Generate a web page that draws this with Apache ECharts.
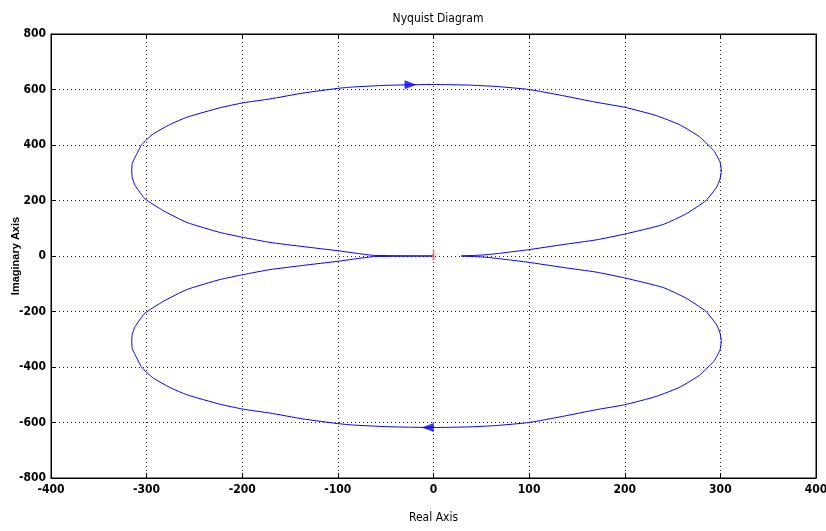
<!DOCTYPE html>
<html><head><meta charset="utf-8">
<script src="https://cdn.jsdelivr.net/npm/echarts@6/dist/echarts.min.js"></script>
<style>html,body{margin:0;padding:0;background:#fff}#c{width:826px;height:531px}</style>
</head><body><div id="c"></div>
<script>
// Upper loop (traversed from origin, out left, across top, back on right)
var upperX = [0, -20, -40, -63.6, -81, -100, -136.6, -171, -199, -223.5, -258, -282.6, -301.7, -312, -315, -315.6, -315, -312, -305, -293, -275.6, -258, -223.5, -199, -171, -136.6, -100, -84.5, -49.7, -24, 0, 36, 65.5, 100, 135, 170, 200, 233, 258, 278, 293, 299.5, 301, 299.5, 296, 285, 264, 239.7, 200, 170, 135, 100, 83, 69, 51.6, 29];
var upperY = [0, 0.4, 1, 2.4, 10, 19, 34, 49, 67, 85, 121, 163.5, 206, 254, 282, 308, 334, 356, 402, 440, 474, 500, 534, 552, 566, 587, 604, 609, 615, 617, 618, 616, 611, 600, 578, 554, 536, 506, 472, 430, 380, 340, 308, 276, 248, 200, 151.5, 113, 79, 58, 41, 23, 15.6, 9.6, 3.6, 0];
// Lower loop (from right end on axis, across bottom, back to origin)
var lowerX = [29, 51.6, 69, 83, 100, 135, 170, 200, 239.7, 264, 285, 296, 299.5, 301, 299.5, 293, 278, 258, 233, 200, 170, 135, 100, 65.5, 36, 0, -24, -49.7, -84.5, -100, -136.6, -171, -199, -223.5, -258, -275.6, -293, -305, -312, -315, -315.6, -315, -312, -301.7, -282.6, -258, -223.5, -199, -171, -136.6, -100, -81, -63.6, -40, -20, 0];
var lowerY = [0, -3.6, -9.6, -15.6, -23, -41, -58, -79, -113, -151.5, -200, -248, -276, -308, -340, -380, -430, -472, -506, -536, -554, -578, -600, -611, -616, -618, -617, -615, -609, -604, -587, -566, -552, -534, -500, -474, -440, -402, -356, -334, -308, -282, -254, -206, -163.5, -121, -85, -67, -49, -34, -19, -10, -2.4, -1, -0.4, 0];
// Direction arrows
var arrowX = [-24, -6];
var arrowY = [617, -618];
var arrowRot = [-90, 90];
// Axis ticks
var xTicks = [-400, -300, -200, -100, 0, 100, 200, 300, 400];
var yTicks = [-800, -600, -400, -200, 0, 200, 400, 600, 800];

var curve = [];
for (var i = 0; i < upperX.length; i++) curve.push([upperX[i], upperY[i]]);
for (var j = 1; j < lowerX.length; j++) curve.push([lowerX[j], lowerY[j]]);
var arrows = arrowX.map(function (x, k) { return { value: [x, arrowY[k]], symbolRotate: arrowRot[k] }; });

var font = '"Liberation Sans Narrow", "DejaVu Sans Condensed", "Liberation Sans", Arial, sans-serif';
var chart = echarts.init(document.getElementById('c'), null, { renderer: 'canvas' });
var lbl = { color: '#000', fontFamily: font, fontSize: 12, fontWeight: 'bold' };
var split = { show: true, lineStyle: { color: '#222', type: [1, 3], width: 1 } };
chart.setOption({
  animation: false,
  backgroundColor: '#fff',
  title: {
    text: 'Nyquist Diagram', left: 433, top: 8, textAlign: 'center',
    textStyle: { fontFamily: font, fontSize: 12, fontWeight: 'normal', color: '#000' }
  },
  grid: { left: 51, right: 10, top: 34, bottom: 53, containLabel: false, outerBoundsMode: 'none', show: true, borderColor: '#000', borderWidth: 1, backgroundColor: 'transparent' },
  xAxis: [{
    type: 'value', min: xTicks[0], max: xTicks[xTicks.length - 1], interval: 100,
    name: 'Real Axis', nameLocation: 'middle', nameGap: 34, nameMoveOverlap: false,
    nameTextStyle: { fontFamily: font, fontSize: 12, color: '#000' },
    axisLine: { show: true, onZero: false, lineStyle: { color: '#000' } },
    axisTick: { show: true, inside: true, length: 5, lineStyle: { color: '#000' } },
    axisLabel: Object.assign({ margin: 6 }, lbl),
    splitLine: split
  }, {
    type: 'value', position: 'top', min: xTicks[0], max: xTicks[xTicks.length - 1], interval: 100,
    axisLine: { show: true, onZero: false, lineStyle: { color: '#000' } },
    axisTick: { show: true, inside: true, length: 5, lineStyle: { color: '#000' } },
    axisLabel: { show: false }, splitLine: { show: false }
  }],
  yAxis: [{
    type: 'value', min: yTicks[0], max: yTicks[yTicks.length - 1], interval: 200,
    name: 'Imaginary Axis', nameLocation: 'middle', nameGap: 30, nameMoveOverlap: false,
    nameTextStyle: { fontFamily: '"Liberation Sans", Arial, sans-serif', fontSize: 11, fontWeight: 'bold', color: '#000' },
    axisLine: { show: true, onZero: false, lineStyle: { color: '#000' } },
    axisTick: { show: true, inside: true, length: 5, lineStyle: { color: '#000' } },
    axisLabel: Object.assign({ margin: 5 }, lbl),
    splitLine: split
  }, {
    type: 'value', position: 'right', min: yTicks[0], max: yTicks[yTicks.length - 1], interval: 200,
    axisLine: { show: true, onZero: false, lineStyle: { color: '#000' } },
    axisTick: { show: true, inside: true, length: 5, lineStyle: { color: '#000' } },
    axisLabel: { show: false }, splitLine: { show: false }
  }],
  series: [{
    type: 'line', data: curve, showSymbol: false, smooth: 0.15,
    lineStyle: { color: '#0000ff', width: 1 }, z: 3
  }, {
    type: 'scatter', data: arrows, symbol: 'triangle', symbolSize: [9, 12],
    itemStyle: { color: '#0000ff' }, z: 4
  }, {
    type: 'scatter', data: [[0, 0]], symbol: 'rect', symbolSize: [2, 9],
    itemStyle: { color: '#ff6060' }, z: 5
  }]
});
</script></body></html>
